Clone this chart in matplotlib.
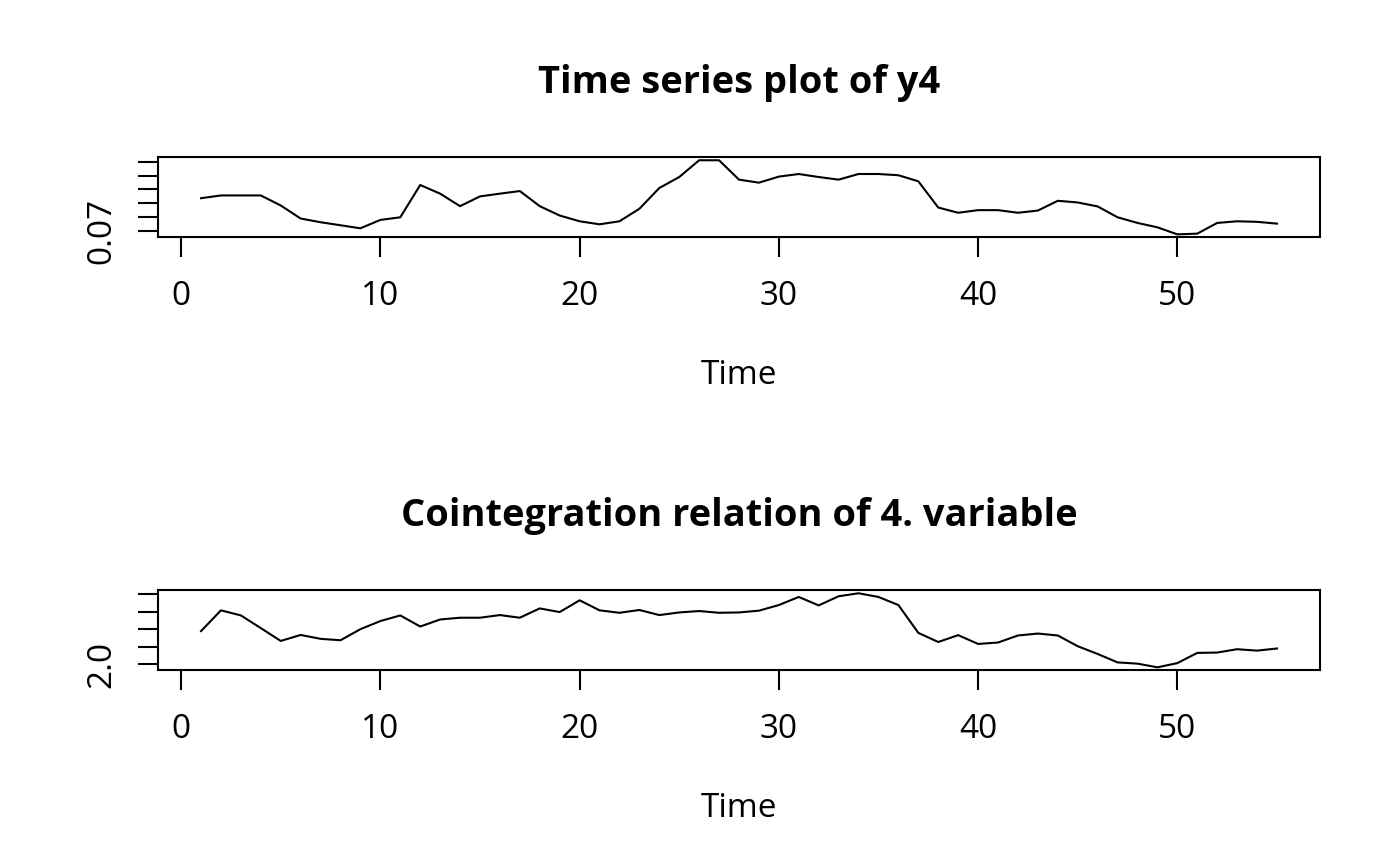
import numpy as np
import matplotlib
matplotlib.use('Agg')
import matplotlib.pyplot as plt

plt.rcParams['font.family'] = ['Open Sans', 'DejaVu Sans']
plt.rcParams['font.size'] = 12

time = np.arange(1, 56)

y4 = [0.0936, 0.0956, 0.0956, 0.0956, 0.0883, 0.0788, 0.0761, 0.0739, 0.0717, 0.0778,
      0.0797, 0.1032, 0.0969, 0.0878, 0.0949, 0.0969, 0.0988, 0.0878, 0.0810, 0.0768,
      0.0746, 0.0768, 0.0859, 0.1010, 0.1090, 0.1212, 0.1212, 0.1071, 0.1049, 0.1093,
      0.1112, 0.1090, 0.1071, 0.1112, 0.1112, 0.1103, 0.1059, 0.0868, 0.0830, 0.0849,
      0.0849, 0.0830, 0.0846, 0.0917, 0.0905, 0.0876, 0.0797, 0.0756, 0.0724, 0.0673,
      0.0678, 0.0756, 0.0768, 0.0764, 0.0751]

coint4 = [2.189, 2.307, 2.278, 2.206, 2.133, 2.167, 2.145, 2.137, 2.200, 2.246,
          2.278, 2.215, 2.255, 2.265, 2.265, 2.280, 2.265, 2.318, 2.297, 2.364,
          2.307, 2.293, 2.309, 2.280, 2.295, 2.303, 2.293, 2.295, 2.305, 2.337,
          2.383, 2.335, 2.387, 2.404, 2.383, 2.337, 2.179, 2.127, 2.166, 2.116,
          2.124, 2.164, 2.175, 2.164, 2.103, 2.059, 2.011, 2.004, 1.983, 2.007,
          2.065, 2.067, 2.086, 2.078, 2.090]

x_ticks = [0, 10, 20, 30, 40, 50]
y4_ticks = [0.07, 0.08, 0.09, 0.10, 0.11, 0.12]
y4_labels = ['0.07', '', '', '', '', '']
coint_ticks = [2.0, 2.1, 2.2, 2.3, 2.4]
coint_labels = ['2.0', '', '', '', '']

panels = [
    (y4, y4_ticks, y4_labels, 'Time series plot of y4'),
    (coint4, coint_ticks, coint_labels, 'Cointegration relation of 4. variable'),
]

W, H = 1400, 866
fig = plt.figure(figsize=(7, 4.33), dpi=200)

box_left, box_right = 158, 1320
box_tops = [157.3, 590.3]
box_h = 80

for (vals, yt, yl, title), top in zip(panels, box_tops):
    ax = fig.add_axes([box_left / W, 1 - (top + box_h) / H,
                       (box_right - box_left) / W, box_h / H])
    ax.plot(time, vals, color='black', lw=0.75)
    ax.margins(x=0.04, y=0.04)
    ax.set_xticks(x_ticks)
    ax.set_yticks(yt)
    ax.set_yticklabels(yl, rotation=90, va='center')
    ax.tick_params(direction='out', length=7.2, width=0.75, labelsize=12)
    ax.tick_params(axis='x', pad=8.2)
    ax.tick_params(axis='y', pad=7.2)
    for s in ax.spines.values():
        s.set_linewidth(0.75)
    ax.set_title(title, fontsize=13.7, fontweight='bold', pad=23.2)
    fig.text(0.5 * (box_left + box_right) / W, 1 - (top + box_h + 147) / H, 'Time',
             ha='center', va='baseline', fontsize=12)

fig.savefig('out.png', dpi=200)
